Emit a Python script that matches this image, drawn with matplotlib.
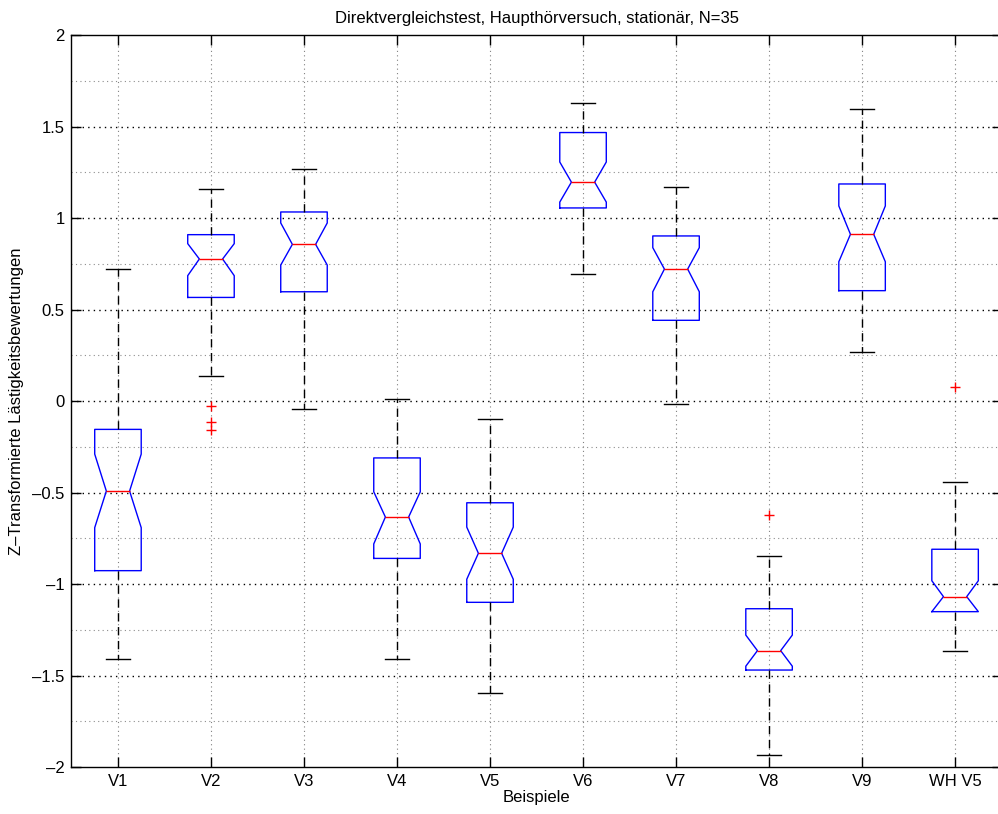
import matplotlib
matplotlib.use("Agg")
import matplotlib.pyplot as plt
from matplotlib.ticker import FuncFormatter

plt.rcParams['font.family'] = ['Liberation Sans', 'DejaVu Sans']

labels = ['V1', 'V2', 'V3', 'V4', 'V5', 'V6', 'V7', 'V8', 'V9', 'WH V5']
med = [-0.492, 0.776, 0.856, -0.634, -0.832, 1.196, 0.721, -1.364, 0.911, -1.069]
q1 = [-0.927, 0.566, 0.597, -0.860, -1.100, 1.055, 0.441, -1.470, 0.603, -1.151]
q3 = [-0.155, 0.909, 1.033, -0.311, -0.556, 1.467, 0.902, -1.135, 1.186, -0.810]
cilo = [-0.692, 0.685, 0.743, -0.781, -0.974, 1.087, 0.597, -1.449, 0.761, -1.151]
cihi = [-0.290, 0.860, 0.973, -0.496, -0.689, 1.306, 0.838, -1.279, 1.066, -0.982]
whislo = [-1.408, 0.138, -0.045, -1.410, -1.594, 0.694, -0.018, -1.936, 0.268, -1.365]
whishi = [0.720, 1.160, 1.266, 0.009, -0.098, 1.627, 1.171, -0.845, 1.596, -0.444]
fliers = [[], [-0.029, -0.116, -0.158], [], [], [], [], [], [-0.623], [], [0.075]]

stats = []
for i in range(len(labels)):
    stats.append(dict(med=med[i], q1=q1[i], q3=q3[i], cilo=cilo[i], cihi=cihi[i],
                      whislo=whislo[i], whishi=whishi[i], fliers=fliers[i],
                      label=labels[i]))

fig = plt.figure(figsize=(9.98, 8.14), dpi=100)
# right edge of the axes lies just outside the picture, as in the original
ax = fig.add_axes([0.0716, 0.0577, 0.932, 0.8993])

# grid first so it sits behind the boxes
for y in [-1.75, -1.25, -0.75, -0.25, 0.25, 0.75, 1.25, 1.75]:
    ax.axhline(y, color='0.55', linestyle=(0, (1, 3)), linewidth=0.8, zorder=0)
for y in [-1.5, -1.0, -0.5, 0.0, 0.5, 1.0, 1.5]:
    ax.axhline(y, color='black', linestyle=(0, (1, 3)), linewidth=1.0, zorder=0)
for x in range(1, len(labels) + 1):
    ax.axvline(x, color='0.5', linestyle=(0, (1, 3)), linewidth=0.8, zorder=0)

ax.bxp(stats, shownotches=True, widths=0.5, capwidths=0.25,
       boxprops=dict(color='blue', linewidth=1.0),
       medianprops=dict(color='red', linewidth=1.0),
       whiskerprops=dict(color='black', linewidth=1.0, linestyle=(0, (6, 4))),
       capprops=dict(color='black', linewidth=1.0),
       flierprops=dict(marker='+', markeredgecolor='red', markersize=7,
                       markeredgewidth=1.0, linestyle='none'))

ax.set_xlim(0.5, len(labels) + 0.5)
ax.set_ylim(-2, 2)
ax.set_yticks([-2, -1.5, -1, -0.5, 0, 0.5, 1, 1.5, 2])
ax.yaxis.set_major_formatter(FuncFormatter(
    lambda v, p: ('%g' % v).replace('-', '\u2013') if v != 0 else '0'))
ax.set_xticks(range(1, len(labels) + 1))
ax.set_xticklabels(labels)
ax.tick_params(direction='in', length=7, width=1, top=True, right=True,
               labelsize=12, pad=5)
for s in ax.spines.values():
    s.set_linewidth(1.0)
ax.spines['right'].set_visible(False)

ax.set_title('Direktvergleichstest, Haupthörversuch, stationär, N=35', fontsize=12, pad=9)
ax.set_xlabel('Beispiele', fontsize=12, labelpad=1)
ax.set_ylabel('Z\u2013Transformierte Lästigkeitsbewertungen', fontsize=12, labelpad=6)

fig.savefig('out.png', dpi=100)
